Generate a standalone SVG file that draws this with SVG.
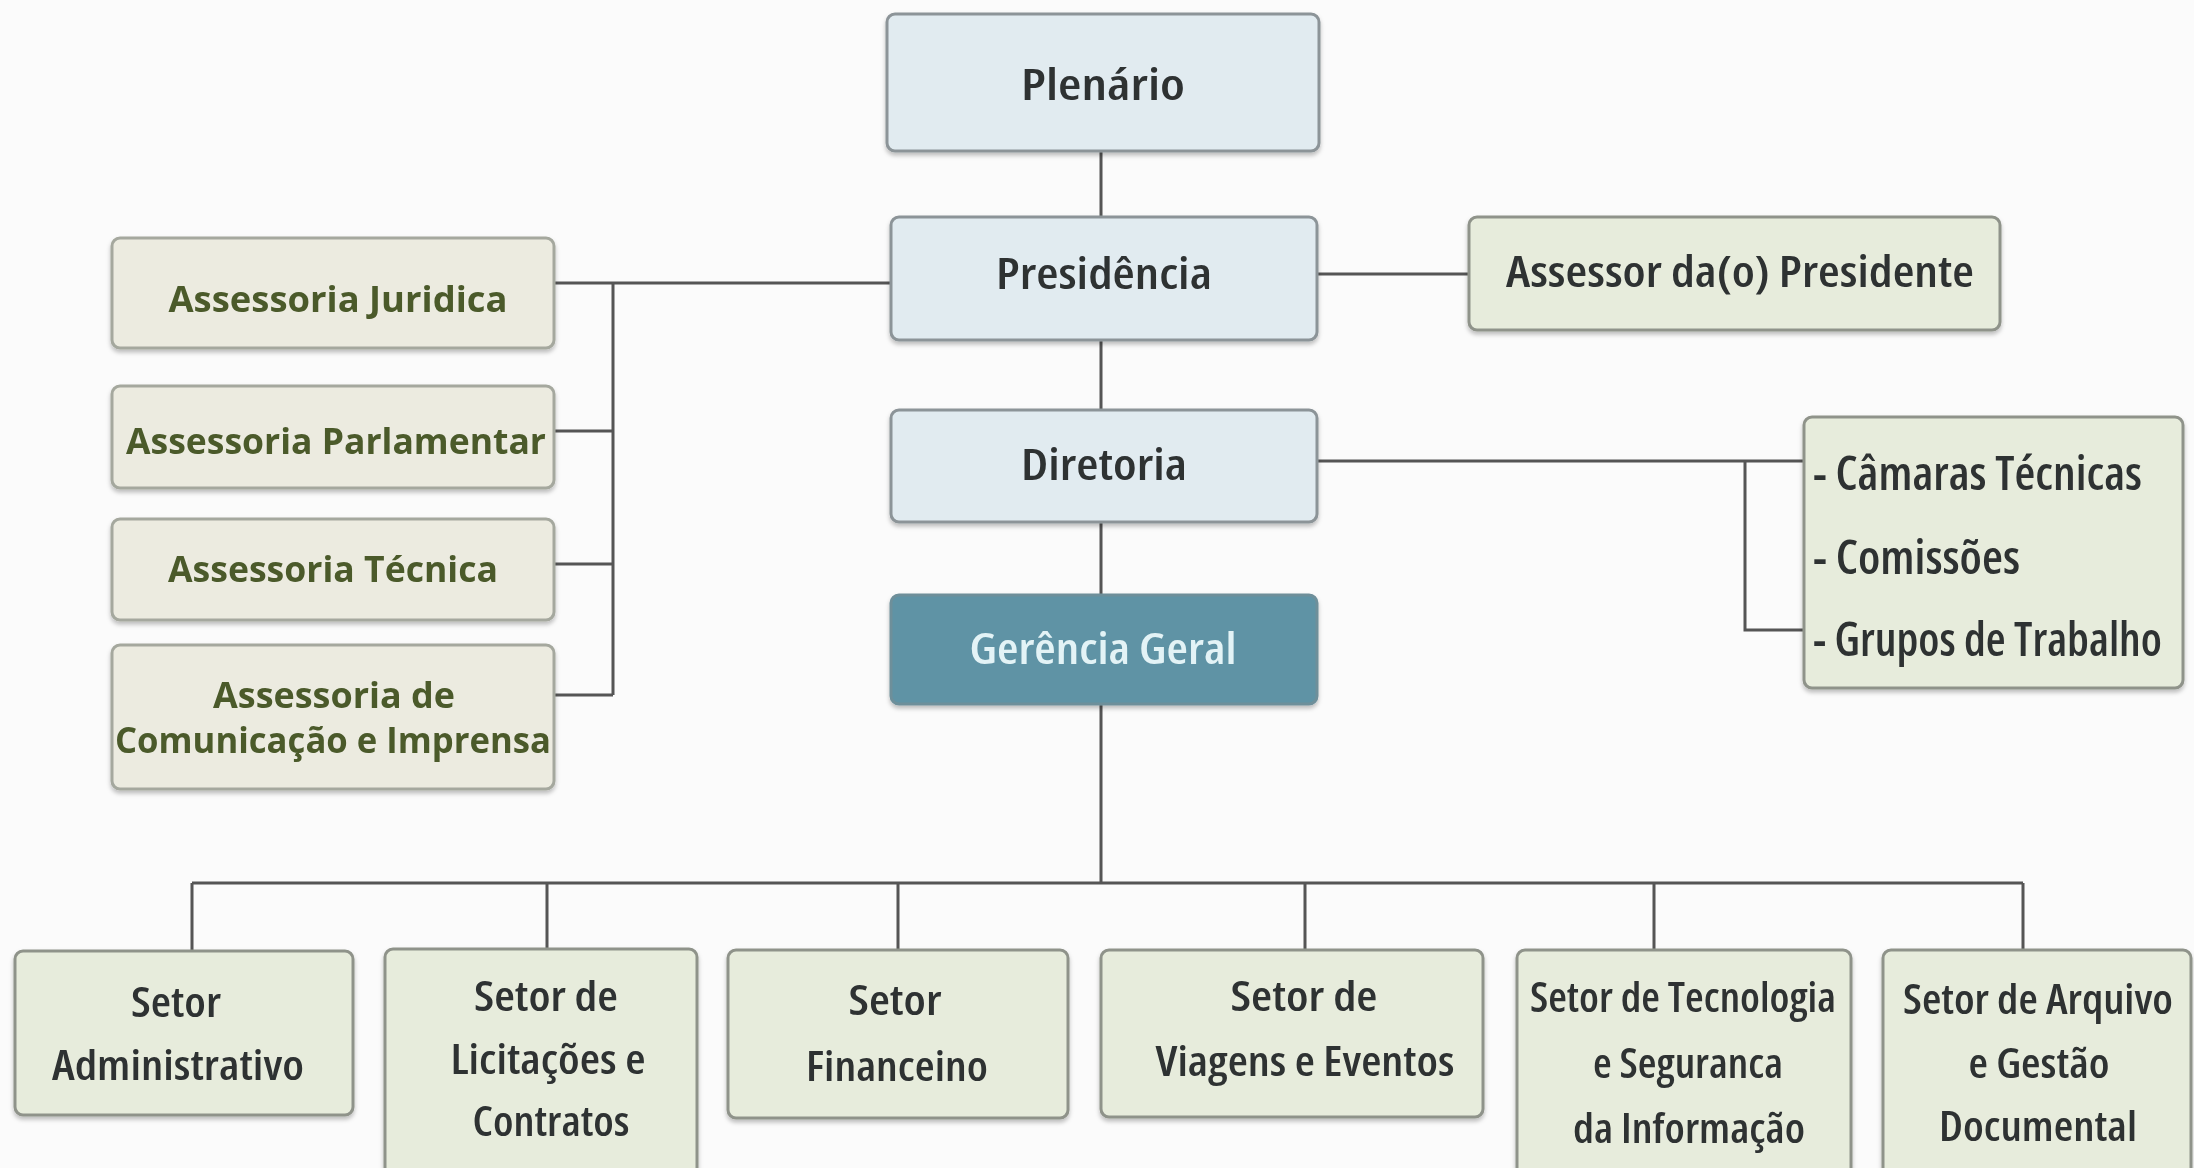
<svg xmlns="http://www.w3.org/2000/svg" width="2194" height="1168" viewBox="0 0 2194 1168">
<defs>
<style>
.blue{fill:#e1ebf0;stroke:#8c9498;stroke-width:3}
.dark{fill:#5f93a5;stroke:#6e8f9a;stroke-width:3}
.beige{fill:#ecebe0;stroke:#a5a89e;stroke-width:3}
.green{fill:#e7ecdc;stroke:#8f938a;stroke-width:3}
.t{font-family:"Open Sans","Liberation Sans",sans-serif;font-weight:600;font-stretch:condensed;fill:#2e3133;text-anchor:middle}
.tl{font-family:"Open Sans","Liberation Sans",sans-serif;font-weight:600;font-stretch:condensed;fill:#2e3133}
.w{fill:#e3f3f6}
.b{font-family:"Open Sans","Lato","Liberation Sans",sans-serif;font-weight:700;fill:#4b5a2c;text-anchor:middle}
.c{fill:none;stroke:#555;stroke-width:3}
</style>
<filter id="sh" x="-5%" y="-5%" width="110%" height="120%">
<feDropShadow dx="0" dy="3" stdDeviation="2" flood-color="#000" flood-opacity="0.25"/>
</filter>
</defs>
<rect width="2194" height="1168" fill="#fbfbfb"/>
<g id="connectors">
<path class="c" d="M1101 151V217M1101 340V410M1101 522V595M1101 704V883M192 883H2023M192 883V951M547 883V949M898 883V950M1305 883V950M1654 883V950M2023 883V950"/>
<path class="c" d="M1317 274H1469"/>
<path class="c" d="M1317 461H1804M1745 461V630H1804"/>
<path class="c" d="M891 283H613V695M554 283H613M554 431H613M554 564H613M554 695H613"/>
</g>
<g id="plenario" filter="url(#sh)"><rect class="blue" x="887" y="14" width="432" height="137" rx="8"/><text class="t" x="1103" y="100" font-size="44" textLength="164" lengthAdjust="spacingAndGlyphs">Plenário</text></g>
<g id="presidencia" filter="url(#sh)"><rect class="blue" x="891" y="217" width="426" height="123" rx="8"/><text class="t" x="1104" y="289" font-size="44" textLength="216" lengthAdjust="spacingAndGlyphs">Presidência</text></g>
<g id="diretoria" filter="url(#sh)"><rect class="blue" x="891" y="410" width="426" height="112" rx="8"/><text class="t" x="1104" y="480" font-size="44" textLength="166" lengthAdjust="spacingAndGlyphs">Diretoria</text></g>
<g id="gerencia" filter="url(#sh)"><rect class="dark" x="891" y="595" width="426" height="109" rx="8"/><text class="t w" x="1103" y="664" font-size="44" textLength="267" lengthAdjust="spacingAndGlyphs">Gerência Geral</text></g>
<g id="assessor-presidente" filter="url(#sh)"><rect class="green" x="1469" y="217" width="531" height="113" rx="8"/><text class="t" x="1740" y="287" font-size="44" textLength="468" lengthAdjust="spacingAndGlyphs">Assessor da(o) Presidente</text></g>
<g id="camaras" filter="url(#sh)"><rect class="green" x="1804" y="417" width="379" height="271" rx="8"/>
<text class="tl" x="1813" y="490" font-size="46" textLength="329" lengthAdjust="spacingAndGlyphs">- Câmaras Técnicas</text>
<text class="tl" x="1813" y="574" font-size="46" textLength="207" lengthAdjust="spacingAndGlyphs">- Comissões</text>
<text class="tl" x="1813" y="656" font-size="46" textLength="349" lengthAdjust="spacingAndGlyphs">- Grupos de Trabalho</text></g>
<g id="ass-juridica" filter="url(#sh)"><rect class="beige" x="112" y="238" width="442" height="110" rx="8"/><text class="b" x="338" y="312" font-size="36" textLength="339" lengthAdjust="spacingAndGlyphs">Assessoria Juridica</text></g>
<g id="ass-parlamentar" filter="url(#sh)"><rect class="beige" x="112" y="386" width="442" height="102" rx="8"/><text class="b" x="336" y="454" font-size="36" textLength="420" lengthAdjust="spacingAndGlyphs">Assessoria Parlamentar</text></g>
<g id="ass-tecnica" filter="url(#sh)"><rect class="beige" x="112" y="519" width="442" height="101" rx="8"/><text class="b" x="333" y="582" font-size="36" textLength="330" lengthAdjust="spacingAndGlyphs">Assessoria Técnica</text></g>
<g id="ass-comunicacao" filter="url(#sh)"><rect class="beige" x="112" y="645" width="442" height="144" rx="8"/><text class="b" x="334" y="708" font-size="36" textLength="242" lengthAdjust="spacingAndGlyphs">Assessoria de</text><text class="b" x="333" y="753" font-size="36" textLength="436" lengthAdjust="spacingAndGlyphs">Comunicação e Imprensa</text></g>
<g id="setor-adm" filter="url(#sh)"><rect class="green" x="15" y="951" width="338" height="164" rx="8"/><text class="t" x="176" y="1017" font-size="42" textLength="90" lengthAdjust="spacingAndGlyphs">Setor</text><text class="t" x="178" y="1080" font-size="42" textLength="252" lengthAdjust="spacingAndGlyphs">Administrativo</text></g>
<g id="setor-lic" filter="url(#sh)"><rect class="green" x="385" y="949" width="312" height="230" rx="8"/><text class="t" x="546" y="1011" font-size="42" textLength="144" lengthAdjust="spacingAndGlyphs">Setor de</text><text class="t" x="548" y="1074" font-size="42" textLength="195" lengthAdjust="spacingAndGlyphs">Licitações e</text><text class="t" x="551" y="1136" font-size="42" textLength="157" lengthAdjust="spacingAndGlyphs">Contratos</text></g>
<g id="setor-fin" filter="url(#sh)"><rect class="green" x="728" y="950" width="340" height="168" rx="8"/><text class="t" x="895" y="1015" font-size="42" textLength="93" lengthAdjust="spacingAndGlyphs">Setor</text><text class="t" x="897" y="1081" font-size="42" textLength="182" lengthAdjust="spacingAndGlyphs">Financeino</text></g>
<g id="setor-viagens" filter="url(#sh)"><rect class="green" x="1101" y="950" width="382" height="167" rx="8"/><text class="t" x="1304" y="1011" font-size="42" textLength="147" lengthAdjust="spacingAndGlyphs">Setor de</text><text class="t" x="1305" y="1076" font-size="42" textLength="299" lengthAdjust="spacingAndGlyphs">Viagens e Eventos</text></g>
<g id="setor-ti" filter="url(#sh)"><rect class="green" x="1517" y="950" width="334" height="230" rx="8"/><text class="t" x="1683" y="1012" font-size="42" textLength="306" lengthAdjust="spacingAndGlyphs">Setor de Tecnologia</text><text class="t" x="1688" y="1078" font-size="42" textLength="190" lengthAdjust="spacingAndGlyphs">e Seguranca</text><text class="t" x="1689" y="1143" font-size="42" textLength="232" lengthAdjust="spacingAndGlyphs">da Informação</text></g>
<g id="setor-arquivo" filter="url(#sh)"><rect class="green" x="1883" y="950" width="308" height="230" rx="8"/><text class="t" x="2038" y="1014" font-size="42" textLength="270" lengthAdjust="spacingAndGlyphs">Setor de Arquivo</text><text class="t" x="2039" y="1078" font-size="42" textLength="141" lengthAdjust="spacingAndGlyphs">e Gestão</text><text class="t" x="2038" y="1141" font-size="42" textLength="198" lengthAdjust="spacingAndGlyphs">Documental</text></g>
</svg>
